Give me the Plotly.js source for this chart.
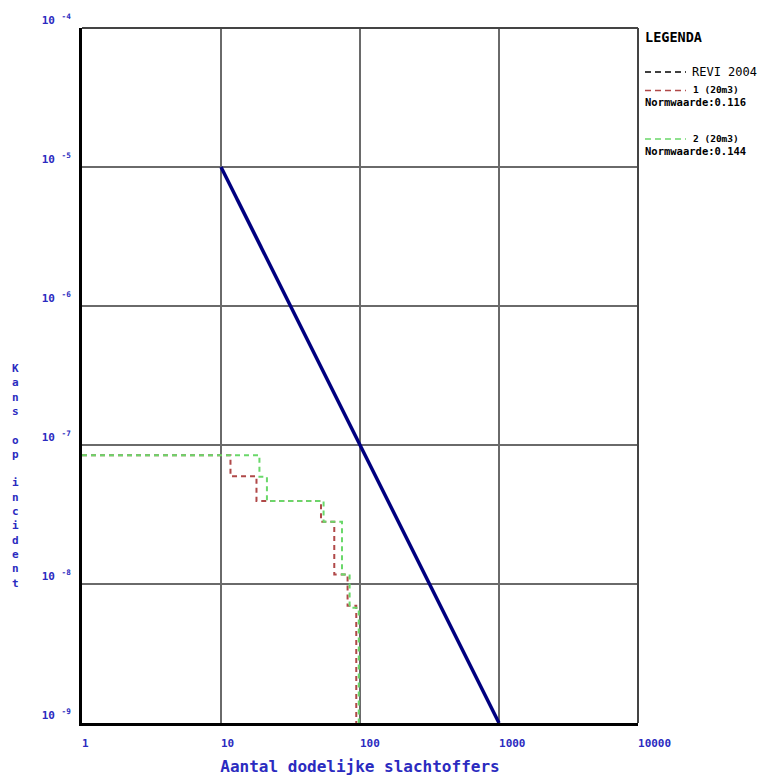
<!DOCTYPE html>
<html>
<head>
<meta charset="utf-8">
<script src="https://cdn.plot.ly/plotly-3.0.1.min.js"></script>
<style>html,body{margin:0;padding:0;background:#fff;}#chart{width:767px;height:776px;}</style>
</head>
<body>
<div id="chart"></div>
<script>
// ---- data ----
const reviX = [10, 1000];
const reviY = [1e-5, 1e-9];

const s1X = [1, 11.7, 18.0, 52.4, 65.3, 81.4, 94.0];
const s1Y = [8.45e-8, 5.97e-8, 3.96e-8, 2.80e-8, 1.17e-8, 6.97e-9, 1e-9];

const s2X = [1, 18.9, 21.4, 54.7, 74.2, 84.2, 98.0];
const s2Y = [8.45e-8, 5.9e-8, 3.96e-8, 2.80e-8, 1.17e-8, 6.75e-9, 1e-9];

const xTickVals = [1, 10, 100, 1000, 10000];
const xTickLabels = ['1', '10', '100', '1000', '10000'];
const yTickVals = [1e-9, 1e-8, 1e-7, 1e-6, 1e-5, 1e-4];
const yTickExps = ['-9', '-8', '-7', '-6', '-5', '-4'];

const legendTitle = 'LEGENDA';
const seriesNames = ['REVI 2004', '1 (20m3)', '2 (20m3)'];
const normValues = ['0.116', '0.144'];
const xTitle = 'Aantal dodelijke slachtoffers';
const yTitle = 'Kans op incident';

// ---- styles ----
const MONO = 'DejaVu Sans Mono';
const BLUE = '#2b2bc0';
const RED = '#b04848';
const GREEN = '#6ad86a';

const traces = [
  {x: s1X, y: s1Y, mode: 'lines', line: {shape: 'hv', color: RED, width: 2, dash: '5px,4px'}, showlegend: false, hoverinfo: 'skip'},
  {x: s2X, y: s2Y, mode: 'lines', line: {shape: 'hv', color: GREEN, width: 2, dash: '5px,4px'}, showlegend: false, hoverinfo: 'skip'},
  {x: reviX, y: reviY, mode: 'lines', line: {color: '#000080', width: 3.5}, showlegend: false, hoverinfo: 'skip'}
];

const nb = '\u00a0';
const xText = xTickLabels.map(l => nb.repeat(l.length) + l);
const yText = yTickExps.map(e => '10 <sup>' + e + '</sup>');

function py(pix) { return (723 - pix) / 695.5; }
function px(pix) { return (pix - 81.5) / 556.5; }

const shapes = [
  {type: 'line', xref: 'paper', yref: 'paper', x0: 0, x1: 1, y0: 1, y1: 1, line: {color: '#444', width: 2}},
  {type: 'line', xref: 'paper', yref: 'paper', x0: 1, x1: 1, y0: 0, y1: 1, line: {color: '#444', width: 2}},
  {type: 'line', xref: 'paper', yref: 'paper', x0: px(645), x1: px(686), y0: py(71.5), y1: py(71.5), line: {color: '#000', width: 1.5, dash: '6px,4px'}},
  {type: 'line', xref: 'paper', yref: 'paper', x0: px(645), x1: px(686), y0: py(90), y1: py(90), line: {color: RED, width: 1.5, dash: '6px,4px'}},
  {type: 'line', xref: 'paper', yref: 'paper', x0: px(645), x1: px(686), y0: py(138.5), y1: py(138.5), line: {color: GREEN, width: 1.5, dash: '6px,4px'}}
];

function ann(text, xp, yp, size, bold, color) {
  return {
    text: bold ? '<b>' + text + '</b>' : text,
    xref: 'paper', yref: 'paper', x: px(xp), y: py(yp),
    xanchor: 'left', yanchor: 'middle', showarrow: false,
    font: {family: MONO, size: size, color: color}
  };
}

const annotations = [
  ann(legendTitle, 643, 37, 13.5, true, '#000'),
  ann(seriesNames[0], 690, 71.5, 12, false, '#000'),
  ann(seriesNames[1], 691, 89, 9.5, true, '#000'),
  ann('Normwaarde:' + normValues[0], 643, 102, 10.5, true, '#000'),
  ann(seriesNames[2], 691, 138, 9.5, true, '#000'),
  ann('Normwaarde:' + normValues[1], 643, 151, 10.5, true, '#000'),
  {
    text: '<b>' + yTitle.split('').map(c => c === ' ' ? nb : c).join('<br>') + '</b>',
    xref: 'paper', yref: 'paper', x: px(15), y: py(476), xanchor: 'center', yanchor: 'middle',
    showarrow: false, align: 'center', font: {family: MONO, size: 11, color: BLUE, weight: 'bold'}
  }
];

const layout = {
  width: 767, height: 776,
  margin: {l: 81.5, r: 129, t: 27.5, b: 53},
  paper_bgcolor: '#fff', plot_bgcolor: '#fff',
  showlegend: false,
  xaxis: {
    type: 'log', range: [0, 4], tickmode: 'array', tickvals: xTickVals, ticktext: xText,
    showgrid: true, gridcolor: '#6a6a6a', gridwidth: 2,
    showline: true, linecolor: '#000', linewidth: 3, zeroline: false, ticks: '',
    tickfont: {family: MONO, size: 11, color: BLUE, weight: 'bold'},
    ticklabelstandoff: 8,
    title: {text: '<b>' + xTitle + '</b>', font: {family: MONO, size: 16, color: BLUE}, standoff: 13}
  },
  yaxis: {
    type: 'log', range: [-9, -4], tickmode: 'array', tickvals: yTickVals, ticktext: yText,
    showgrid: true, gridcolor: '#6a6a6a', gridwidth: 2,
    showline: true, linecolor: '#000', linewidth: 3, zeroline: false, ticks: '',
    tickfont: {family: MONO, size: 11, color: BLUE, weight: 'bold'},
    ticklabelstandoff: 6, ticklabelshift: -8
  },
  shapes: shapes,
  annotations: annotations
};

Plotly.newPlot('chart', traces, layout, {displayModeBar: false, staticPlot: true});
</script>
</body>
</html>
